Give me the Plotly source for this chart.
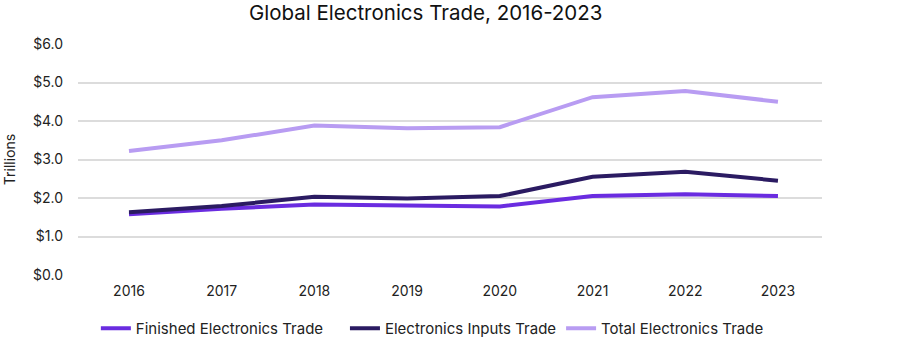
import plotly.graph_objects as go

years = ["2016", "2017", "2018", "2019", "2020", "2021", "2022", "2023"]
finished_trade = [1.58, 1.72, 1.83, 1.81, 1.78, 2.05, 2.10, 2.05]
inputs_trade = [1.63, 1.79, 2.03, 1.99, 2.05, 2.55, 2.68, 2.45]
total_trade = [3.22, 3.50, 3.88, 3.81, 3.84, 4.62, 4.78, 4.50]

pad = "\u00a0" * 4
series = [
    ("Finished Electronics Trade" + pad, finished_trade, "#6a2ce0"),
    ("Electronics Inputs Trade", inputs_trade, "#2b1b62"),
    ("Total Electronics Trade", total_trade, "#b89cf2"),
]

fig = go.Figure()
for name, vals, color in series:
    fig.add_trace(go.Scatter(
        x=years, y=vals, name=name, mode="lines",
        line=dict(color=color, width=4),
    ))

font_family = "Inter, Lato, sans-serif"
fig.update_layout(
    width=900, height=339,
    margin=dict(l=78, r=78, t=44, b=64, autoexpand=False),
    paper_bgcolor="white", plot_bgcolor="white",
    font=dict(family=font_family, size=14, color="#222222"),
    title=dict(text="Global Electronics Trade, 2016-2023", x=0.473, xanchor="center",
               yref="container", y=0.962, yanchor="middle",
               font=dict(size=20.5, color="#111111")),
    showlegend=True,
    legend=dict(orientation="h", x=0.024, xanchor="left",
                yref="container", y=0.031, yanchor="middle",
                font=dict(size=15), itemwidth=30, tracegroupgap=0),
    xaxis=dict(type="category", range=[-0.55, 7.475], showgrid=False, showline=False,
               ticks="", ticklabelstandoff=6, tickfont=dict(size=14)),
    yaxis=dict(range=[0, 6], dtick=1, tickformat="$.1f", showgrid=True,
               gridcolor="#dcdcdc", gridwidth=1.5, zeroline=False, showline=False,
               ticks="", ticklabelstandoff=14, tickfont=dict(size=14),
               title=dict(text="Trillions", standoff=14, font=dict(size=14))),
)

fig.write_html("out.html")
